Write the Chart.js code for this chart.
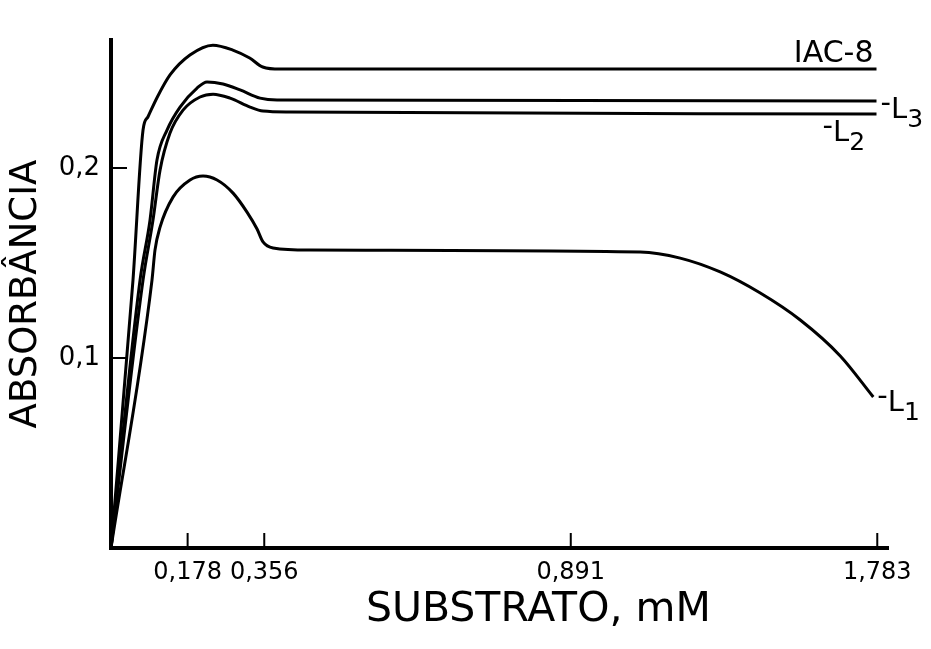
<!DOCTYPE html>
<html lang="pt">
<head>
<meta charset="utf-8">
<title>Absorbância x Substrato</title>
<script src="https://cdn.jsdelivr.net/npm/chart.js@4.4.1/dist/chart.umd.min.js"></script>
<style>
    html, body { margin: 0; padding: 0; background: #fff; }
    #chart { display: block; }
</style>
</head>
<body>
<canvas id="chart" width="931" height="649"></canvas>
<script>
// Absorbância x concentração de substrato - IAC-8 e linhagens L1, L2, L3

// Eixo x do original não é linear: posição no eixo (0..10) e rótulo em mM
const xTickPos = [1, 2, 6, 10];
const xTickLabels = ['0,178', '0,356', '0,891', '1,783'];
const yTickValues = [0.1, 0.2];

// Curvas (x = posição no eixo, y = absorbância)
const iacX = [0, 0.287, 0.418, 0.483, 0.60, 0.77, 1.03, 1.33, 1.59, 1.81, 1.98, 2.21, 9.99];
const iacY = [0, 0.141, 0.220, 0.227, 0.237, 0.249, 0.2595, 0.2647, 0.2621, 0.2579, 0.2532, 0.2521, 0.2521];

const l3X = [0, 0.379, 0.509, 0.60, 0.731, 0.901, 1.123, 1.253, 1.462, 1.684, 1.945, 2.167, 9.99];
const l3Y = [0, 0.141, 0.1726, 0.2042, 0.220, 0.2321, 0.2421, 0.2453, 0.2442, 0.2411, 0.2368, 0.2358, 0.2353];

const l2X = [0, 0.418, 0.548, 0.64, 0.77, 0.94, 1.162, 1.332, 1.554, 1.815, 1.984, 2.337, 9.99];
const l2Y = [0, 0.141, 0.1726, 0.1989, 0.2184, 0.2305, 0.2374, 0.2389, 0.2368, 0.2321, 0.2300, 0.2295, 0.2284];

const l1X = [0, 0.535, 0.574, 0.64, 0.809, 1.031, 1.201, 1.384, 1.593, 1.775, 1.906, 1.984, 2.115, 2.598,
             6.906, 7.428, 7.95, 8.473, 8.995, 9.517, 9.948];
const l1Y = [0, 0.141, 0.1568, 0.1689, 0.1847, 0.1937, 0.1958, 0.1937, 0.1868, 0.1768, 0.1679, 0.1611, 0.1579, 0.1568,
             0.1558, 0.1526, 0.1453, 0.1342, 0.120, 0.1011, 0.0795];

const FONT = "'DejaVu Sans', sans-serif";

function toPoints(xs, ys) {
    return xs.map((x, i) => ({ x: x, y: ys[i] }));
}

function curve(label, xs, ys) {
    return {
        label: label,
        data: toPoints(xs, ys),
        borderColor: '#000',
        borderWidth: 3,
        pointRadius: 0,
        fill: false,
        cubicInterpolationMode: 'monotone'
    };
}

// Pequenos traços das marcas, voltados para dentro do gráfico
const innerTicks = {
    id: 'innerTicks',
    afterDraw(chart) {
        const { ctx, scales: { x, y } } = chart;
        ctx.save();
        ctx.strokeStyle = '#000';
        ctx.lineWidth = 2;
        ctx.beginPath();
        x.ticks.forEach(t => {
            const px = x.getPixelForValue(t.value);
            ctx.moveTo(px, x.top);
            ctx.lineTo(px, x.top - 15);
        });
        y.ticks.forEach(t => {
            const py = y.getPixelForValue(t.value);
            ctx.moveTo(y.right, py);
            ctx.lineTo(y.right + 16, py);
        });
        ctx.stroke();
        ctx.restore();
    }
};

// Rótulos das curvas no fim de cada linha (IAC-8, -L3, -L2, -L1)
const curveLabels = {
    id: 'curveLabels',
    afterDraw(chart) {
        const ctx = chart.ctx;
        const end = i => {
            const pts = chart.getDatasetMeta(i).data;
            return pts[pts.length - 1];
        };
        ctx.save();
        ctx.fillStyle = '#000';
        ctx.textBaseline = 'alphabetic';

        // IAC-8 acima da linha
        const p0 = end(0);
        ctx.font = '30px ' + FONT;
        ctx.textAlign = 'right';
        ctx.fillText('IAC-8', p0.x - 3, p0.y - 7);

        ctx.textAlign = 'left';
        const sub = (x, y, main, idx) => {
            ctx.font = '29px ' + FONT;
            ctx.fillText('-', x, y - 6);
            const w = ctx.measureText('-').width;
            ctx.fillText(main, x + w, y);
            const w2 = ctx.measureText(main).width;
            ctx.font = '25px ' + FONT;
            ctx.fillText(idx, x + w + w2, y + 9);
        };
        const p1 = end(1);
        sub(p1.x + 4, p1.y + 17, 'L', '3');
        const p2 = end(2);
        sub(p2.x - 54, p2.y + 27, 'L', '2');
        const p3 = end(3);
        sub(p3.x + 4, p3.y + 14, 'L', '1');

        // título do eixo x
        const area = chart.chartArea;
        ctx.font = '41px ' + FONT;
        ctx.textAlign = 'center';
        ctx.fillText('SUBSTRATO, mM', area.left + (area.right - area.left) * 0.55, 621);
        ctx.restore();
    }
};

new Chart(document.getElementById('chart'), {
    type: 'line',
    data: {
        datasets: [
            curve('IAC-8', iacX, iacY),
            curve('L3', l3X, l3Y),
            curve('L2', l2X, l2Y),
            curve('L1', l1X, l1Y)
        ]
    },
    options: {
        responsive: false,
        animation: false,
        layout: {
            padding: { top: 40, right: 43, left: 0, bottom: 0 }
        },
        plugins: {
            legend: { display: false },
            tooltip: { enabled: false }
        },
        scales: {
            x: {
                type: 'linear',
                min: 0,
                max: 10.14,
                grid: { display: false, drawTicks: false },
                border: { display: true, color: '#000', width: 4 },
                afterBuildTicks: scale => {
                    scale.ticks = xTickPos.map(v => ({ value: v }));
                },
                afterFit: scale => { scale.height = 101; },
                ticks: {
                    autoSkip: false,
                    maxRotation: 0,
                    padding: 10,
                    color: '#000',
                    font: { family: FONT, size: 24 },
                    callback: value => xTickLabels[xTickPos.indexOf(value)]
                }
            },
            y: {
                min: 0,
                max: 0.2674,
                grid: { display: false, drawTicks: false },
                border: { display: true, color: '#000', width: 4 },
                afterBuildTicks: scale => {
                    scale.ticks = yTickValues.map(v => ({ value: v }));
                },
                afterFit: scale => { scale.width = 111; },
                ticks: {
                    padding: 11,
                    color: '#000',
                    font: { family: FONT, size: 26 },
                    callback: value => value.toFixed(1).replace('.', ',')
                },
                title: {
                    display: true,
                    text: 'ABSORBÂNCIA',
                    color: '#000',
                    font: { family: FONT, size: 37 },
                    padding: { top: 4, bottom: 0 }
                }
            }
        }
    },
    plugins: [innerTicks, curveLabels]
});
</script>
</body>
</html>
